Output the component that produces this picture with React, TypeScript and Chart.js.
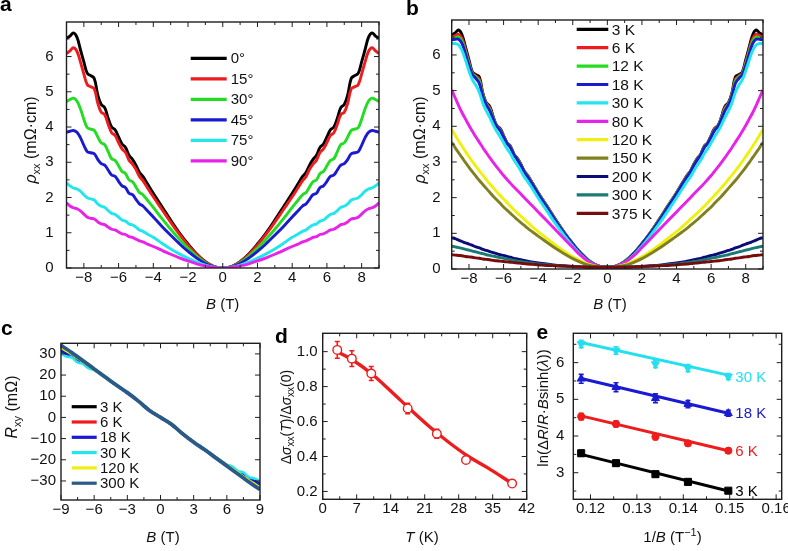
import React, { useEffect, useRef } from "react";
import { Chart, registerables } from "chart.js";

Chart.register(...registerables);

const FONT = '"Liberation Sans", Arial, Helvetica, sans-serif';

// ---------------- Panel a & b: magnetic field grid (positive half, curves even in B) ----------------
const fieldHalf = [0, 0.5, 1, 1.5, 2, 2.5, 3, 3.5, 4, 4.3, 4.6, 4.8, 5.0, 5.2, 5.4, 5.6, 5.8, 6.0, 6.2, 6.4, 6.6, 6.8, 7.0, 7.2, 7.4, 7.6, 7.8, 8.0, 8.2, 8.4, 8.6, 8.8, 9.0];

// Panel a: rho_xx (mOhm cm) for field angles
const angleLabels = ["0°", "15°", "30°", "45°", "75°", "90°"];
const angleColors = ["#000000", "#ee1c1c", "#22dd22", "#1a1ad0", "#22e6ee", "#e822e8"];
const rhoA0 = [0, 0.04, 0.18, 0.40, 0.68, 1.00, 1.36, 1.74, 2.12, 2.36, 2.60, 2.72, 2.92, 3.08, 3.20, 3.42, 3.52, 3.72, 3.92, 4.00, 4.25, 4.55, 4.64, 4.92, 5.38, 5.46, 5.52, 5.85, 6.20, 6.55, 6.67, 6.58, 6.52];
const rhoA15 = [0, 0.04, 0.17, 0.38, 0.65, 0.96, 1.30, 1.66, 2.02, 2.25, 2.48, 2.60, 2.80, 2.95, 3.06, 3.28, 3.38, 3.56, 3.76, 3.84, 4.08, 4.35, 4.42, 4.68, 5.08, 5.14, 5.20, 5.50, 5.85, 6.15, 6.25, 6.16, 6.08];
const rhoA30 = [0, 0.03, 0.15, 0.33, 0.56, 0.82, 1.10, 1.40, 1.72, 1.90, 2.08, 2.14, 2.30, 2.45, 2.50, 2.68, 2.74, 2.90, 3.05, 3.10, 3.30, 3.50, 3.55, 3.72, 3.90, 3.94, 3.98, 4.22, 4.52, 4.74, 4.82, 4.78, 4.72];
const rhoA45 = [0, 0.03, 0.13, 0.28, 0.47, 0.69, 0.93, 1.18, 1.45, 1.60, 1.76, 1.82, 1.95, 2.08, 2.12, 2.28, 2.33, 2.46, 2.60, 2.64, 2.78, 2.92, 2.96, 3.08, 3.24, 3.27, 3.30, 3.48, 3.70, 3.85, 3.90, 3.88, 3.85];
const rhoA75 = [0, 0.02, 0.08, 0.17, 0.28, 0.40, 0.54, 0.70, 0.87, 0.95, 1.04, 1.08, 1.16, 1.22, 1.25, 1.33, 1.36, 1.44, 1.52, 1.55, 1.63, 1.72, 1.75, 1.82, 1.93, 1.96, 1.99, 2.08, 2.18, 2.24, 2.27, 2.33, 2.42];
const rhoA90 = [0, 0.02, 0.06, 0.12, 0.20, 0.29, 0.39, 0.50, 0.61, 0.67, 0.74, 0.77, 0.82, 0.87, 0.89, 0.95, 0.97, 1.02, 1.08, 1.10, 1.16, 1.23, 1.25, 1.31, 1.39, 1.41, 1.44, 1.53, 1.62, 1.68, 1.71, 1.76, 1.85];
const angleSeries = [rhoA0, rhoA15, rhoA30, rhoA45, rhoA75, rhoA90];

// Panel b: rho_xx for temperatures
const tempLabelsB = ["3 K", "6 K", "12 K", "18 K", "30 K", "80 K", "120 K", "150 K", "200 K", "300 K", "375 K"];
const tempColorsB = ["#000000", "#ee1c1c", "#22dd22", "#1a1ad0", "#22e6ee", "#e822e8", "#f0f010", "#80801e", "#0c0c78", "#1a7a76", "#780c0c"];
const rhoB3 = [0.05, 0.08, 0.21, 0.43, 0.71, 1.03, 1.39, 1.77, 2.14, 2.38, 2.62, 2.74, 2.94, 3.10, 3.22, 3.44, 3.54, 3.74, 3.94, 4.02, 4.27, 4.56, 4.66, 4.93, 5.38, 5.45, 5.52, 5.86, 6.22, 6.56, 6.70, 6.62, 6.56];
const rhoB6 = [0.05, 0.08, 0.21, 0.43, 0.71, 1.03, 1.39, 1.77, 2.14, 2.38, 2.61, 2.74, 2.93, 3.09, 3.22, 3.43, 3.54, 3.73, 3.92, 4.02, 4.25, 4.52, 4.64, 4.90, 5.32, 5.41, 5.49, 5.80, 6.15, 6.46, 6.58, 6.54, 6.50];
const rhoB12 = [0.05, 0.08, 0.21, 0.43, 0.71, 1.03, 1.38, 1.76, 2.13, 2.37, 2.60, 2.73, 2.92, 3.08, 3.21, 3.42, 3.53, 3.72, 3.90, 4.01, 4.23, 4.48, 4.62, 4.87, 5.26, 5.38, 5.47, 5.75, 6.08, 6.38, 6.50, 6.48, 6.45];
const rhoB18 = [0.05, 0.08, 0.20, 0.42, 0.70, 1.01, 1.36, 1.74, 2.11, 2.35, 2.58, 2.72, 2.90, 3.06, 3.20, 3.40, 3.52, 3.70, 3.88, 4.00, 4.20, 4.44, 4.60, 4.84, 5.20, 5.34, 5.45, 5.70, 6.02, 6.32, 6.44, 6.44, 6.42];
const rhoB30 = [0.05, 0.07, 0.18, 0.38, 0.64, 0.94, 1.27, 1.63, 1.99, 2.22, 2.45, 2.58, 2.75, 2.91, 3.05, 3.23, 3.37, 3.54, 3.71, 3.86, 4.04, 4.25, 4.43, 4.65, 4.95, 5.15, 5.30, 5.55, 5.85, 6.12, 6.28, 6.32, 6.32];
const rhoB80 = [0.05, 0.08, 0.18, 0.36, 0.60, 0.85, 1.10, 1.35, 1.60, 1.75, 1.90, 2.00, 2.10, 2.20, 2.30, 2.40, 2.51, 2.62, 2.74, 2.86, 2.99, 3.12, 3.26, 3.40, 3.55, 3.70, 3.86, 4.02, 4.20, 4.38, 4.58, 4.80, 5.02];
const rhoB120 = [0.05, 0.06, 0.12, 0.22, 0.34, 0.50, 0.67, 0.86, 1.05, 1.17, 1.30, 1.39, 1.48, 1.57, 1.66, 1.76, 1.86, 1.96, 2.06, 2.17, 2.28, 2.39, 2.51, 2.63, 2.75, 2.88, 3.01, 3.15, 3.29, 3.44, 3.59, 3.75, 3.91];
const rhoB150 = [0.05, 0.06, 0.10, 0.18, 0.29, 0.43, 0.58, 0.75, 0.92, 1.03, 1.14, 1.22, 1.30, 1.38, 1.47, 1.56, 1.65, 1.74, 1.84, 1.94, 2.04, 2.15, 2.26, 2.37, 2.48, 2.60, 2.72, 2.85, 2.98, 3.12, 3.26, 3.40, 3.55];
const rhoB200 = [0.05, 0.05, 0.05, 0.06, 0.07, 0.09, 0.11, 0.14, 0.17, 0.19, 0.22, 0.24, 0.26, 0.28, 0.30, 0.33, 0.35, 0.38, 0.40, 0.43, 0.46, 0.49, 0.52, 0.55, 0.59, 0.62, 0.66, 0.70, 0.73, 0.77, 0.81, 0.85, 0.88];
const rhoB300 = [0.05, 0.05, 0.05, 0.06, 0.07, 0.08, 0.10, 0.12, 0.14, 0.16, 0.18, 0.19, 0.21, 0.22, 0.24, 0.26, 0.28, 0.30, 0.32, 0.34, 0.36, 0.38, 0.40, 0.43, 0.45, 0.48, 0.50, 0.53, 0.55, 0.58, 0.60, 0.62, 0.64];
const rhoB375 = [0.05, 0.05, 0.05, 0.06, 0.07, 0.08, 0.09, 0.10, 0.12, 0.13, 0.14, 0.15, 0.16, 0.17, 0.18, 0.19, 0.20, 0.21, 0.22, 0.23, 0.24, 0.26, 0.27, 0.28, 0.30, 0.31, 0.33, 0.34, 0.35, 0.37, 0.38, 0.39, 0.40];
const tempSeriesB = [rhoB3, rhoB6, rhoB12, rhoB18, rhoB30, rhoB80, rhoB120, rhoB150, rhoB200, rhoB300, rhoB375];

// Panel c: Hall resistance R_xy (mOhm)
const fieldC = [-9, -8.5, -8, -7.5, -7, -6.5, -6, -5, -4, -3, -2, -1, 0, 1, 2, 3, 4, 5, 6, 6.5, 7, 7.5, 8, 8.5, 9];
const tempLabelsC = ["3 K", "6 K", "18 K", "30 K", "120 K", "300 K"];
const tempColorsC = ["#000000", "#ee1c1c", "#1a1ad0", "#22e6ee", "#f0f010", "#2a5a8a"];
const rxy3 = [32.0, 29.8, 29.2, 26.8, 26.0, 23.8, 22.8, 19.0, 15.2, 11.6, 7.8, 3.4, 0, -3.4, -7.8, -11.6, -15.2, -19.0, -22.8, -23.8, -26.0, -26.8, -29.2, -29.8, -32.0];
const rxy6 = [31.0, 29.6, 28.8, 26.9, 25.8, 24.0, 22.7, 19.0, 15.2, 11.6, 7.8, 3.4, 0, -3.4, -7.8, -11.6, -15.2, -19.0, -22.7, -24.0, -25.8, -26.9, -28.8, -29.6, -31.0];
const rxy18 = [31.5, 30.0, 28.8, 26.8, 25.6, 23.8, 22.6, 18.9, 15.1, 11.6, 7.8, 3.4, 0, -3.4, -7.8, -11.6, -15.1, -18.9, -22.6, -23.8, -25.6, -26.8, -28.8, -30.0, -31.5];
const rxy30 = [30.0, 28.8, 28.2, 26.0, 25.2, 23.2, 22.3, 18.7, 15.0, 11.5, 7.7, 3.4, 0, -3.4, -7.7, -11.5, -15.0, -18.7, -22.3, -23.2, -25.2, -26.0, -28.2, -28.8, -30.0];
const rxy120 = [33.0, 31.4, 29.7, 27.9, 26.1, 24.3, 22.5, 18.8, 15.1, 11.8, 8.0, 3.6, 0, -3.6, -8.0, -11.8, -15.1, -18.8, -22.5, -24.3, -26.1, -27.9, -29.7, -31.4, -33.0];
const rxy300 = [34.0, 32.3, 30.5, 28.6, 26.7, 24.8, 22.9, 19.1, 15.3, 11.7, 7.7, 3.3, 0, -3.3, -7.7, -11.7, -15.3, -19.1, -22.9, -24.8, -26.7, -28.6, -30.5, -32.3, -34.0];
const rxySeries = [rxy3, rxy6, rxy18, rxy30, rxy120, rxy300];

// Panel d: normalized oscillation amplitude vs T
const tempD = [3, 6, 10, 17.5, 23.5, 29.5, 39];
const ampD = [1.01, 0.96, 0.875, 0.675, 0.53, 0.38, 0.245];
const errD = [0.048, 0.045, 0.04, 0.03, 0.025, 0.015, 0.01];
const fitTempD = [3, 6, 10, 14, 18, 22, 26, 30, 34, 39];
const fitAmpD = [1.0, 0.955, 0.875, 0.775, 0.67, 0.57, 0.48, 0.40, 0.335, 0.245];

// Panel e: Dingle plot
const invFieldE = [0.118, 0.1255, 0.134, 0.141, 0.1497];
const dingleLabels = ["3 K", "6 K", "18 K", "30 K"];
const dingleColors = ["#000000", "#ee1c1c", "#1a1ad0", "#22e0ee"];
const dingle3 = [3.53, 3.26, 2.96, 2.75, 2.51];
const dingle6 = [4.53, 4.33, 3.98, 3.80, 3.60];
const dingle18 = [5.56, 5.33, 5.03, 4.87, 4.62];
const dingle30 = [6.51, 6.33, 5.96, 5.85, 5.62];
const dingleErr3 = [0.08, 0.07, 0.07, 0.06, 0.05];
const dingleErr6 = [0.09, 0.08, 0.08, 0.07, 0.06];
const dingleErr18 = [0.12, 0.12, 0.12, 0.1, 0.08];
const dingleErr30 = [0.1, 0.1, 0.1, 0.1, 0.08];
const dingleFitX = [0.118, 0.1497];
const dingleFit3 = [3.5, 2.5];
const dingleFit6 = [4.55, 3.6];
const dingleFit18 = [5.57, 4.62];
const dingleFit30 = [6.55, 5.66];
const dingleSeries = [dingle3, dingle6, dingle18, dingle30];
const dingleErrs = [dingleErr3, dingleErr6, dingleErr18, dingleErr30];
const dingleFits = [dingleFit3, dingleFit6, dingleFit18, dingleFit30];
const dingleMarkers = ["rect", "circle", "triangle", "triangle"];
const dingleRot = [0, 0, 0, 180];
const dingleRadius = [5, 3.6, 4.6, 4.6];

// Tick values
const ticksAB_X = [-8, -6, -4, -2, 0, 2, 4, 6, 8];
const minorAB_X = [-9, -7, -5, -3, -1, 1, 3, 5, 7, 9];
const ticksAB_Y = [0, 1, 2, 3, 4, 5, 6];
const minorAB_Y = [0.5, 1.5, 2.5, 3.5, 4.5, 5.5, 6.5];
const ticksC_X = [-9, -6, -3, 0, 3, 6, 9];
const minorC_X = [-7.5, -4.5, -1.5, 1.5, 4.5, 7.5];
const ticksC_Y = [-30, -20, -10, 0, 10, 20, 30];
const ticksD_X = [0, 7, 14, 21, 28, 35, 42];
const minorD_X = [3.5, 10.5, 17.5, 24.5, 31.5, 38.5];
const ticksD_Y = [0.2, 0.4, 0.6, 0.8, 1.0];
const minorD_Y = [0.3, 0.5, 0.7, 0.9];
const ticksE_X = [0.12, 0.13, 0.14, 0.15, 0.16];
const minorE_X = [0.125, 0.135, 0.145, 0.155];
const ticksE_Y = [3, 4, 5, 6];
const minorE_Y = [2.5, 3.5, 4.5, 5.5, 6.5];

// ---------------- helpers ----------------
const mirrorField = (h: number[]) => [...h.slice(1).reverse().map((v) => -v), ...h];
const mirrorValues = (h: number[]) => [...h.slice(1).reverse(), ...h];
const toPoints = (xs: number[], ys: number[]) => xs.map((x, i) => ({ x, y: ys[i] }));
const minus = (s: string) => s.replace("-", "\u2212");
const fmtInt = (v: number) => minus(String(Math.round(v)));
const fmt1 = (v: number) => minus(v.toFixed(1));
const fmt2 = (v: number) => minus(v.toFixed(2));

type Seg = { t: string; s?: "i" | "sub" | "sup" };

function drawRich(ctx: any, segs: Seg[], x: number, y: number, size: number, rotate: boolean) {
  ctx.save();
  ctx.translate(x, y);
  if (rotate) ctx.rotate(-Math.PI / 2);
  const fontFor = (s?: string) =>
    s === "i" ? `italic ${size}px ${FONT}` : s === "sub" || s === "sup" ? `${Math.round(size * 0.7)}px ${FONT}` : `${size}px ${FONT}`;
  let total = 0;
  const widths = segs.map((sg) => {
    ctx.font = fontFor(sg.s);
    const w = ctx.measureText(sg.t).width;
    total += w;
    return w;
  });
  let cx = -total / 2;
  ctx.textAlign = "left";
  ctx.textBaseline = "middle";
  segs.forEach((sg, i) => {
    ctx.font = fontFor(sg.s);
    const dy = sg.s === "sub" ? size * 0.32 : sg.s === "sup" ? -size * 0.35 : 0;
    ctx.fillText(sg.t, cx, dy);
    cx += widths[i];
  });
  ctx.restore();
}

function makeScale(axis: "x" | "y", min: number, max: number, ticks: number[], fmt: (v: number) => string, pad: number, size: number) {
  return {
    type: "linear",
    min,
    max,
    grid: { display: false, drawTicks: false },
    border: { display: false },
    afterBuildTicks: (s: any) => {
      s.ticks = ticks.map((v) => ({ value: v }));
    },
    afterFit: (s: any) => {
      if (axis === "x") s.height = size;
      else s.width = size;
    },
    ticks: {
      autoSkip: false,
      maxRotation: 0,
      padding: pad,
      font: { family: FONT, size: 15 },
      color: "#111",
      callback: (v: any) => fmt(Number(v)),
    },
  };
}

function baseOptions(top: number, right: number, x: any, y: any) {
  return {
    responsive: false,
    animation: false,
    events: [],
    layout: { padding: { left: 0, top, right, bottom: 0 } },
    plugins: { legend: { display: false }, tooltip: { enabled: false } },
    scales: { x, y },
  };
}

function decorPlugin(d: any) {
  return {
    id: "decor",
    beforeDatasetsDraw(chart: any) {
      const ctx = chart.ctx;
      const xs = chart.scales.x;
      const ys = chart.scales.y;
      chart.data.datasets.forEach((ds: any) => {
        if (!ds.errorBars) return;
        ctx.save();
        ctx.strokeStyle = ds.borderColor;
        ctx.lineWidth = 1.6;
        ctx.beginPath();
        ds.data.forEach((p: any, j: number) => {
          const e = ds.errorBars[j];
          const px = xs.getPixelForValue(p.x);
          const y1 = ys.getPixelForValue(p.y + e);
          const y2 = ys.getPixelForValue(p.y - e);
          ctx.moveTo(px, y1);
          ctx.lineTo(px, y2);
          ctx.moveTo(px - 2.5, y1);
          ctx.lineTo(px + 2.5, y1);
          ctx.moveTo(px - 2.5, y2);
          ctx.lineTo(px + 2.5, y2);
        });
        ctx.stroke();
        ctx.restore();
      });
    },
    afterDraw(chart: any) {
      const ctx = chart.ctx;
      const { left, right, top, bottom } = chart.chartArea;
      const xs = chart.scales.x;
      const ys = chart.scales.y;
      ctx.save();
      ctx.strokeStyle = "#1e1e1e";
      ctx.lineWidth = 1;
      ctx.beginPath();
      const tickX = (v: number, len: number) => {
        const p = xs.getPixelForValue(v);
        ctx.moveTo(p, bottom);
        ctx.lineTo(p, bottom - len);
        ctx.moveTo(p, top);
        ctx.lineTo(p, top + len);
      };
      const tickY = (v: number, len: number) => {
        const p = ys.getPixelForValue(v);
        ctx.moveTo(left, p);
        ctx.lineTo(left + len, p);
        ctx.moveTo(right, p);
        ctx.lineTo(right - len, p);
      };
      d.xMajor.forEach((v: number) => tickX(v, 5));
      (d.xMinor || []).forEach((v: number) => tickX(v, 3));
      d.yMajor.forEach((v: number) => tickY(v, 5));
      (d.yMinor || []).forEach((v: number) => tickY(v, 3));
      ctx.stroke();
      ctx.lineWidth = 1.4;
      ctx.strokeRect(left, top, right - left, bottom - top);

      (d.endLabels || []).forEach((l: any) => {
        const ds = chart.data.datasets[l.ds];
        const p = ds.data[ds.data.length - 1];
        ctx.font = `15px ${FONT}`;
        ctx.fillStyle = l.color;
        ctx.textAlign = "left";
        ctx.textBaseline = "middle";
        ctx.fillText(l.text, xs.getPixelForValue(p.x) + 7, ys.getPixelForValue(p.y) + 1);
      });

      ctx.translate(-d.origin[0], -d.origin[1]);
      ctx.fillStyle = "#111";
      drawRich(ctx, d.xTitle, d.xTitlePos[0], d.xTitlePos[1], d.xTitleSize || 15, false);
      drawRich(ctx, d.yTitle, d.yTitlePos[0], d.yTitlePos[1], d.yTitleSize || 15, true);
      ctx.font = `bold 21px ${FONT}`;
      ctx.textAlign = "left";
      ctx.textBaseline = "alphabetic";
      ctx.fillStyle = "#000";
      ctx.fillText(d.letter, d.letterPos[0], d.letterPos[1]);
      if (d.legend) {
        const L = d.legend;
        L.items.forEach((it: any, k: number) => {
          const y = L.y + k * L.dy;
          ctx.strokeStyle = it.color;
          ctx.lineWidth = L.lw;
          ctx.beginPath();
          ctx.moveTo(L.x, y);
          ctx.lineTo(L.x + L.len, y);
          ctx.stroke();
          ctx.fillStyle = "#111";
          ctx.font = `${L.size}px ${FONT}`;
          ctx.textBaseline = "middle";
          ctx.textAlign = "left";
          ctx.fillText(it.label, L.x + L.len + L.gap, y + 1);
        });
      }
      ctx.restore();
    },
  };
}

// ---------------- panel layout boxes (page pixels) ----------------
const BOX_A = { left: 0, top: 0, width: 392, height: 320 };
const BOX_B = { left: 392, top: 0, width: 396, height: 320 };
const BOX_C = { left: 0, top: 315, width: 272, height: 236 };
const BOX_D = { left: 272, top: 315, width: 268, height: 236 };
const BOX_E = { left: 530, top: 315, width: 270, height: 236 };

const titleB: Seg[] = [{ t: "B", s: "i" }, { t: " (T)" }];
const titleRho: Seg[] = [{ t: "ρ", s: "i" }, { t: "xx", s: "sub" }, { t: " (mΩ·cm)" }];

function buildA() {
  const xs = mirrorField(fieldHalf);
  return {
    type: "line",
    data: {
      datasets: angleSeries.map((s, i) => ({
        data: toPoints(xs, mirrorValues(s)),
        borderColor: angleColors[i],
        borderWidth: 2.9,
        pointRadius: 0,
        tension: 0.4,
        order: -i,
      })),
    },
    options: baseOptions(4, 13, makeScale("x", -9, 9, ticksAB_X, fmtInt, 1, 52), makeScale("y", 0, 6.98, ticksAB_Y, fmtInt, 13, 66.5)),
    plugins: [
      decorPlugin({
        origin: [BOX_A.left, BOX_A.top],
        xMajor: ticksAB_X, xMinor: minorAB_X, yMajor: ticksAB_Y, yMinor: minorAB_Y,
        xTitle: titleB, xTitlePos: [222.7, 305],
        yTitle: titleRho, yTitlePos: [32, 140], yTitleSize: 16,
        letter: "a", letterPos: [0, 11],
        legend: { items: angleLabels.map((l, i) => ({ label: l, color: angleColors[i] })), x: 190.7, y: 58.3, len: 36, gap: 4, dy: 20.5, size: 15, lw: 3.2 },
      }),
    ],
  };
}

function buildB() {
  const xs = mirrorField(fieldHalf);
  return {
    type: "line",
    data: {
      datasets: tempSeriesB.map((s, i) => ({
        data: toPoints(xs, mirrorValues(s)),
        borderColor: tempColorsB[i],
        borderWidth: 2.9,
        pointRadius: 0,
        tension: 0.4,
        order: -i,
      })),
    },
    options: baseOptions(4, 25, makeScale("x", -9, 9, ticksAB_X, fmtInt, 1, 51), makeScale("y", 0, 6.98, ticksAB_Y, fmtInt, 11, 59.7)),
    plugins: [
      decorPlugin({
        origin: [BOX_B.left, BOX_B.top],
        xMajor: ticksAB_X, xMinor: minorAB_X, yMajor: ticksAB_Y, yMinor: minorAB_Y,
        xTitle: titleB, xTitlePos: [610, 305],
        yTitle: titleRho, yTitlePos: [421, 140], yTitleSize: 16,
        letter: "b", letterPos: [406, 15],
        legend: { items: tempLabelsB.map((l, i) => ({ label: l, color: tempColorsB[i] })), x: 576.7, y: 29.3, len: 31.6, gap: 3.4, dy: 18.4, size: 15.5, lw: 3.2 },
      }),
    ],
  };
}

function buildC() {
  return {
    type: "line",
    data: {
      datasets: rxySeries.map((s, i) => ({
        data: toPoints(fieldC, s),
        borderColor: tempColorsC[i],
        borderWidth: i === 5 ? 3.8 : 2.6,
        pointRadius: 0,
        tension: 0.4,
        order: -i,
      })),
    },
    options: baseOptions(28.3, 12, makeScale("x", -9, 9, ticksC_X, fmtInt, 1, 51), makeScale("y", -39, 35, ticksC_Y, fmtInt, 5, 61)),
    plugins: [
      decorPlugin({
        origin: [BOX_C.left, BOX_C.top],
        xMajor: ticksC_X, xMinor: minorC_X, yMajor: ticksC_Y, yMinor: [],
        xTitle: titleB, xTitlePos: [163, 538],
        yTitle: [{ t: "R", s: "i" }, { t: "xy", s: "sub" }, { t: " (mΩ)" }], yTitlePos: [13, 407], yTitleSize: 16,
        letter: "c", letterPos: [1, 335],
        legend: { items: tempLabelsC.map((l, i) => ({ label: l, color: tempColorsC[i] })), x: 71.7, y: 406.7, len: 25, gap: 3.3, dy: 15.3, size: 15, lw: 3.2 },
      }),
    ],
  };
}

function buildD() {
  return {
    type: "line",
    data: {
      datasets: [
        {
          data: toPoints(tempD, ampD),
          errorBars: errD,
          showLine: false,
          borderColor: "#ee1c1c",
          pointStyle: "circle",
          pointRadius: 4.3,
          pointBackgroundColor: "#ffffff",
          pointBorderColor: "#ee1c1c",
          pointBorderWidth: 1.4,
          order: 0,
        },
        {
          data: toPoints(fitTempD, fitAmpD),
          borderColor: "#ee1c1c",
          borderWidth: 3.4,
          pointRadius: 0,
          cubicInterpolationMode: "monotone",
          order: 1,
        },
      ],
    },
    options: baseOptions(18.3, 13.3, makeScale("x", 0, 42, ticksD_X, fmtInt, 1, 51.7), makeScale("y", 0.155, 1.105, ticksD_Y, fmt1, 5, 50.7)),
    plugins: [
      decorPlugin({
        origin: [BOX_D.left, BOX_D.top],
        xMajor: ticksD_X, xMinor: minorD_X, yMajor: ticksD_Y, yMinor: minorD_Y,
        xTitle: [{ t: "T", s: "i" }, { t: " (K)" }], xTitlePos: [422, 538],
        yTitle: [
          { t: "Δ" }, { t: "σ", s: "i" }, { t: "xx", s: "sub" }, { t: "(" }, { t: "T", s: "i" }, { t: ")/Δ" },
          { t: "σ", s: "i" }, { t: "xx", s: "sub" }, { t: "(0)" },
        ],
        yTitlePos: [287, 417], yTitleSize: 14,
        letter: "d", letterPos: [275, 343],
      }),
    ],
  };
}

function buildE() {
  const datasets: any[] = [];
  dingleSeries.forEach((s, i) => {
    datasets.push({
      data: toPoints(invFieldE, s),
      errorBars: dingleErrs[i],
      showLine: false,
      borderColor: dingleColors[i],
      pointStyle: dingleMarkers[i],
      pointRotation: dingleRot[i],
      pointRadius: dingleRadius[i],
      pointBackgroundColor: dingleColors[i],
      pointBorderColor: dingleColors[i],
      pointBorderWidth: 1,
      order: 0,
    });
  });
  dingleFits.forEach((f, i) => {
    datasets.push({
      data: toPoints(dingleFitX, f),
      borderColor: dingleColors[i],
      borderWidth: 3,
      pointRadius: 0,
      order: 1,
    });
  });
  return {
    type: "line",
    data: { datasets },
    options: baseOptions(18.3, 18.3, makeScale("x", 0.1163, 0.1612, ticksE_X, fmt2, 1, 51.7), makeScale("y", 2.275, 6.8, ticksE_Y, fmtInt, 9, 43.3)),
    plugins: [
      decorPlugin({
        origin: [BOX_E.left, BOX_E.top],
        xMajor: ticksE_X, xMinor: minorE_X, yMajor: ticksE_Y, yMinor: minorE_Y,
        xTitle: [{ t: "1/" }, { t: "B", s: "i" }, { t: " (T" }, { t: "−1", s: "sup" }, { t: ")" }], xTitlePos: [672.5, 538],
        yTitle: [
          { t: "ln(Δ" }, { t: "R", s: "i" }, { t: "/" }, { t: "R", s: "i" }, { t: "·" }, { t: "B", s: "i" },
          { t: "sinh(" }, { t: "λ", s: "i" }, { t: "))" },
        ],
        yTitlePos: [544, 408],
        letter: "e", letterPos: [536.5, 339],
        endLabels: dingleLabels.map((l, i) => ({ ds: i, text: l, color: dingleColors[i] })),
      }),
    ],
  };
}

function Panel({ box, build }: { box: any; build: () => any }) {
  const ref = useRef<HTMLCanvasElement>(null);
  useEffect(() => {
    const chart = new Chart(ref.current as HTMLCanvasElement, build() as any);
    return () => chart.destroy();
  }, []);
  return (
    <div style={{ position: "absolute", left: box.left, top: box.top, width: box.width, height: box.height }}>
      <canvas ref={ref} width={box.width} height={box.height} style={{ display: "block" }} />
    </div>
  );
}

export default function App() {
  return (
    <div style={{ position: "fixed", left: 0, top: 0, width: 788, height: 551, overflow: "hidden", background: "#ffffff" }}>
      <Panel box={BOX_A} build={buildA} />
      <Panel box={BOX_B} build={buildB} />
      <Panel box={BOX_C} build={buildC} />
      <Panel box={BOX_D} build={buildD} />
      <Panel box={BOX_E} build={buildE} />
    </div>
  );
}
